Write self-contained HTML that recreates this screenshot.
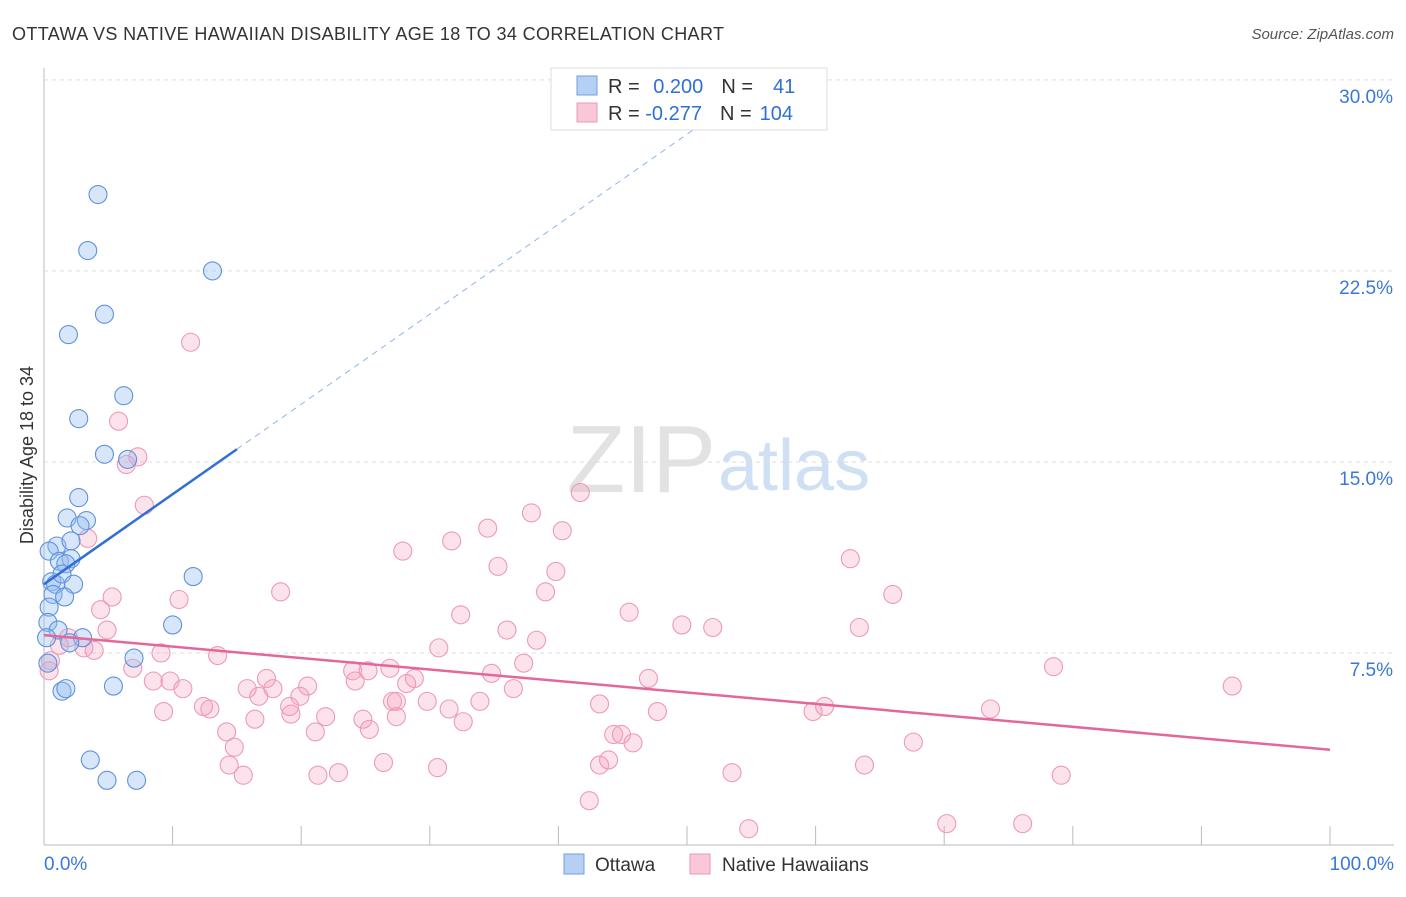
<!DOCTYPE html>
<html><head><meta charset="utf-8"><style>
body{margin:0;background:#fff;font-family:"Liberation Sans",sans-serif}
svg text{font-family:"Liberation Sans",sans-serif}
</style></head><body>
<svg width="1406" height="892" id="c">
<text x="12" y="40" font-size="18" fill="#333" textLength="712">OTTAWA VS NATIVE HAWAIIAN DISABILITY AGE 18 TO 34 CORRELATION CHART</text>
<text x="1394" y="39" font-size="15" fill="#555" text-anchor="end" font-style="italic">Source: ZipAtlas.com</text>
<text x="716" y="492" font-size="96" fill="#e2e2e2" text-anchor="end" font-family="Liberation Serif">ZIP</text>
<text x="718" y="490" font-size="72" fill="#cfe0f5">atlas</text>
<text transform="translate(33,455) rotate(-90)" font-size="18" fill="#333" text-anchor="middle">Disability Age 18 to 34</text>
<g id="grid"></g><g id="marks"></g>
<g>
<rect x="551" y="68" width="276" height="62" fill="#fff" stroke="#ddd"/>
<rect x="577" y="76" width="20" height="19" fill="#b5d0f3" stroke="#6f9fe0"/>
<rect x="577" y="103" width="20" height="19" fill="#f9c7d6" stroke="#eb9ab5"/>
<text x="608" y="93" font-size="20" fill="#333">R = <tspan fill="#2f6fd6" dx="8">0.200</tspan><tspan dx="18" fill="#333">N =</tspan><tspan dx="20" fill="#2f6fd6">41</tspan></text>
<text x="608" y="120" font-size="20" fill="#333">R = <tspan fill="#2f6fd6">-0.277</tspan><tspan dx="18" fill="#333">N =</tspan><tspan dx="8" fill="#2f6fd6">104</tspan></text>
</g>
<g>
<rect x="564" y="854" width="20" height="20" fill="#b5d0f3" stroke="#6f9fe0"/>
<text x="595" y="871" font-size="19" fill="#333">Ottawa</text>
<rect x="690" y="854" width="20" height="20" fill="#f9c7d6" stroke="#eb9ab5"/>
<text x="722" y="871" font-size="19" fill="#333">Native Hawaiians</text>
</g>
<text x="44" y="870" font-size="19" fill="#3a78d8">0.0%</text>
<text x="1394" y="870" font-size="19" fill="#3a78d8" text-anchor="end">100.0%</text>
</svg>
<script>
const yTicks=[7.5,15,22.5,30];
const blueX=[4.2,3.4,13.1,4.7,1.9,6.2,2.7,4.7,6.5,2.7,1.8,3.3,2.8,1,2.1,0.4,1.2,2.1,1.7,0.6,0.9,1.4,2.3,0.7,1.6,0.4,0.3,1.1,3,2,11.6,10,7,5.4,1.4,1.7,0.3,3.6,4.9,7.2,0.2];
const blueY=[25.5,23.3,22.5,20.8,20,17.6,16.7,15.3,15.1,13.6,12.8,12.7,12.5,11.7,11.9,11.5,11.1,11.2,11,10.3,10.2,10.6,10.2,9.8,9.7,9.3,8.7,8.4,8.1,7.9,10.5,8.6,7.3,6.2,6,6.1,7.1,3.3,2.5,2.5,8.1];
const pinkX=[11.4,5.8,7.3,6.4,7.8,3.4,41.7,37.9,34.5,40.3,31.7,27.9,35.3,39.8,62.7,39.0,18.4,5.3,10.5,4.4,32.4,66,45.5,36,49.6,52,38.3,63.4,4.9,1.9,3.1,1.2,3.9,9.1,13.5,30.7,0.5,6.9,0.4,17.3,24.0,25.2,26.9,28.8,34.8,37.3,78.5,8.5,9.8,10.8,15.8,17.8,20.5,28.2,24.2,36.5,47.0,92.4,16.7,19.9,12.4,12.9,9.3,19.1,27.1,27.4,29.8,31.5,33.9,43.2,47.7,60.7,59.8,73.6,21.9,16.4,19.2,24.8,32.6,25.3,14.2,21.1,27.4,44.3,44.9,45.8,14.8,67.6,14.4,15.5,21.3,22.9,26.4,30.6,43.2,43.9,53.5,63.8,79.1,42.4,54.8,70.2,76.1];
const pinkY=[19.7,16.6,15.2,14.9,13.3,12,13.8,13,12.4,12.3,11.9,11.5,10.9,10.7,11.2,9.9,9.9,9.7,9.6,9.2,9.0,9.8,9.1,8.4,8.6,8.5,8.0,8.5,8.4,8.1,7.7,7.8,7.6,7.5,7.4,7.7,7.2,6.9,6.8,6.5,6.8,6.8,6.9,6.5,6.7,7.1,6.96,6.4,6.4,6.1,6.1,6.1,6.2,6.3,6.4,6.1,6.5,6.2,5.8,5.8,5.4,5.3,5.2,5.4,5.6,5.6,5.6,5.3,5.6,5.5,5.2,5.4,5.2,5.3,5.0,4.9,5.1,4.9,4.8,4.5,4.4,4.4,5.0,4.3,4.3,3.97,3.8,4.0,3.1,2.7,2.7,2.8,3.2,3.0,3.1,3.3,2.8,3.1,2.7,1.7,0.6,0.8,0.8];
const blueFit=[10.2,15.5];const pinkFit=[8.2,3.7];
const X=v=>44+v*12.86, Y=v=>844-v*25.47;
const NS='http://www.w3.org/2000/svg';
const grid=document.getElementById('grid'), marks=document.getElementById('marks');
function mk(p,tag,a){const e=document.createElementNS(NS,tag);for(const k in a)e.setAttribute(k,a[k]);p.appendChild(e);return e;}
const ax=mk(grid,'line',{x1:44,y1:68,x2:44,y2:845,stroke:'#bbb'});


const bx=mk(grid,'line',{x1:44,y1:845,x2:1394,y2:845,stroke:'#bbb'});


for(let i=0;i<=10;i++){const t=mk(grid,'line',{x1:44+i*128.6,y1:826,x2:44+i*128.6,y2:845,stroke:'#bbb'});

}
yTicks.forEach(v=>{const g=mk(grid,'line',{x1:44,x2:1394,y1:Y(v),y2:Y(v),stroke:'#ddd','stroke-dasharray':'4,4'});


const t=mk(grid,'text',{x:1393,y:Y(v)+23,'font-size':19,fill:'#3a78d8','text-anchor':'end'});t.textContent=v.toFixed(1)+'%';

});
pinkX.forEach((x,i)=>{const c=mk(marks,'circle',{cx:X(x),cy:Y(pinkY[i]),r:9,fill:'rgba(245,160,190,0.3)',stroke:'#ec9ab6','stroke-width':1.1});

});
blueX.forEach((x,i)=>{const c=mk(marks,'circle',{cx:X(x),cy:Y(blueY[i]),r:9,fill:'rgba(150,190,240,0.38)',stroke:'#5f92dc','stroke-width':1.1});

});
const slope=(blueFit[1]-blueFit[0])/15;
const bl=mk(marks,'line',{x1:X(0),y1:Y(blueFit[0]),x2:X(15),y2:Y(blueFit[1]),stroke:'#2f6fd6','stroke-width':2.5});


const bd=mk(marks,'line',{x1:X(15),y1:Y(blueFit[1]),x2:X(52),y2:Y(blueFit[0]+slope*52),stroke:'#8fb4ea','stroke-width':1,'stroke-dasharray':'6,5'});


const pl=mk(marks,'line',{x1:X(0),y1:Y(pinkFit[0]),x2:X(100),y2:Y(pinkFit[1]),stroke:'#e5679a','stroke-width':2.5});


</script>
</body></html>
